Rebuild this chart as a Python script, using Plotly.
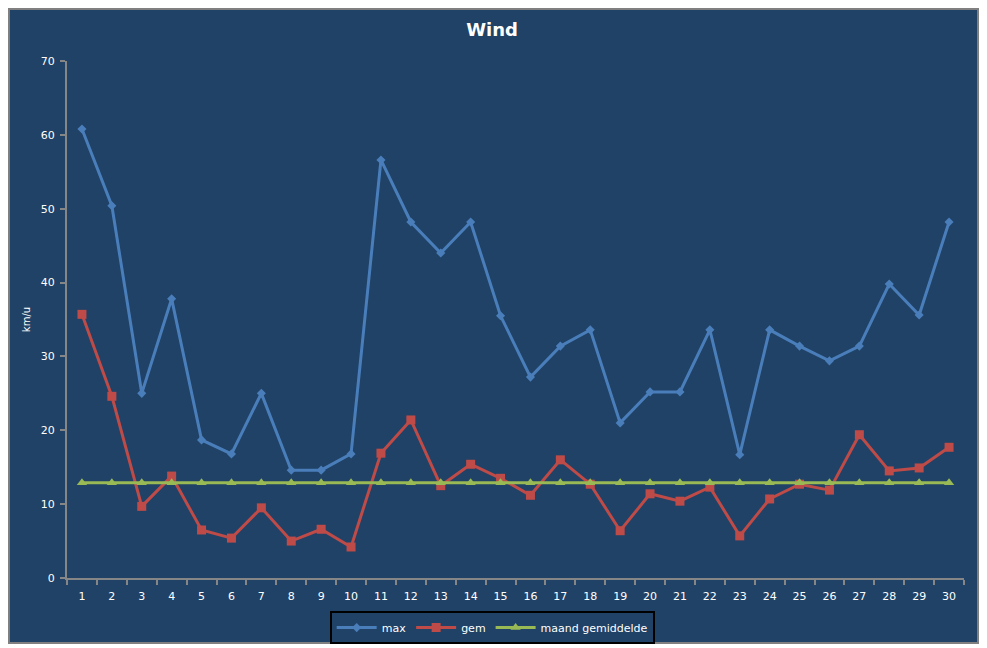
import plotly.graph_objects as go

days = [str(d) for d in range(1, 31)]
max_wind = [60.8, 50.4, 25.0, 37.8, 18.7, 16.8, 25.0, 14.6, 14.6, 16.8,
            56.6, 48.2, 44.0, 48.2, 35.5, 27.2, 31.4, 33.6, 21.0, 25.2,
            25.2, 33.6, 16.7, 33.6, 31.4, 29.4, 31.4, 39.8, 35.6, 48.2]
gem_wind = [35.7, 24.6, 9.7, 13.8, 6.5, 5.4, 9.5, 5.0, 6.6, 4.2,
            16.9, 21.4, 12.5, 15.4, 13.5, 11.2, 16.0, 12.7, 6.4, 11.4,
            10.4, 12.3, 5.7, 10.7, 12.7, 11.9, 19.4, 14.5, 14.9, 17.7]
maand_gem = [12.9, 12.9, 12.9, 12.9, 12.9, 12.9, 12.9, 12.9, 12.9, 12.9,
             12.9, 12.9, 12.9, 12.9, 12.9, 12.9, 12.9, 12.9, 12.9, 12.9,
             12.9, 12.9, 12.9, 12.9, 12.9, 12.9, 12.9, 12.9, 12.9, 12.9]

bg = "#1F4266"
axis_grey = "#868686"
font = "DejaVu Sans"

fig = go.Figure()
fig.add_trace(go.Scatter(x=days, y=max_wind, name="max", mode="lines+markers",
                         line=dict(color="#4A7EBB", width=3),
                         marker=dict(symbol="diamond", size=7, color="#4A7EBB")))
fig.add_trace(go.Scatter(x=days, y=gem_wind, name="gem", mode="lines+markers",
                         line=dict(color="#BE4B48", width=3),
                         marker=dict(symbol="square", size=9, color="#BE4B48")))
fig.add_trace(go.Scatter(x=days, y=maand_gem, name="maand gemiddelde", mode="lines+markers",
                         line=dict(color="#98B954", width=3),
                         marker=dict(symbol="triangle-up", size=9, color="#98B954")))

# dark chart background with thin grey frame
fig.add_shape(type="rect", xref="paper", yref="paper",
              x0=-0.0647, x1=1.0156, y0=-0.1257, y1=1.1006,
              fillcolor=bg, line=dict(color="#808080", width=2), layer="below")

fig.update_layout(
    width=987, height=648,
    margin=dict(l=59, r=31, t=53, b=78),
    paper_bgcolor="white",
    plot_bgcolor="rgba(0,0,0,0)",
    font=dict(family=font, size=11, color="white"),
    title=dict(text="<b>Wind</b>", x=0.4905, xanchor="center", y=0.966, yanchor="middle",
               font=dict(family=font, size=18, color="white")),
    showlegend=True,
    legend=dict(orientation="h", x=0.474, xanchor="center", y=-0.064, yanchor="top",
                bgcolor=bg, bordercolor="black", borderwidth=2,
                font=dict(family=font, size=11, color="white"),
                itemwidth=40, tracegroupgap=0),
)
fig.update_xaxes(type="category", range=[-0.5, 29.5], tickson="boundaries",
                 ticks="outside", ticklen=5, ticklabelstandoff=7,
                 tickcolor=axis_grey, tickwidth=2, showline=True, linecolor=axis_grey,
                 linewidth=2, showgrid=False, zeroline=False,
                 tickfont=dict(family=font, size=11, color="white"))
fig.update_yaxes(range=[0, 70], dtick=10, ticks="outside", ticklen=5, ticklabelstandoff=3,
                 tickcolor=axis_grey, tickwidth=2, showline=True, linecolor=axis_grey,
                 linewidth=2, showgrid=False, zeroline=False,
                 title=dict(text="km/u", font=dict(family=font, size=10, color="white"),
                            standoff=8),
                 tickfont=dict(family=font, size=11, color="white"))

fig.write_html("out.html")
